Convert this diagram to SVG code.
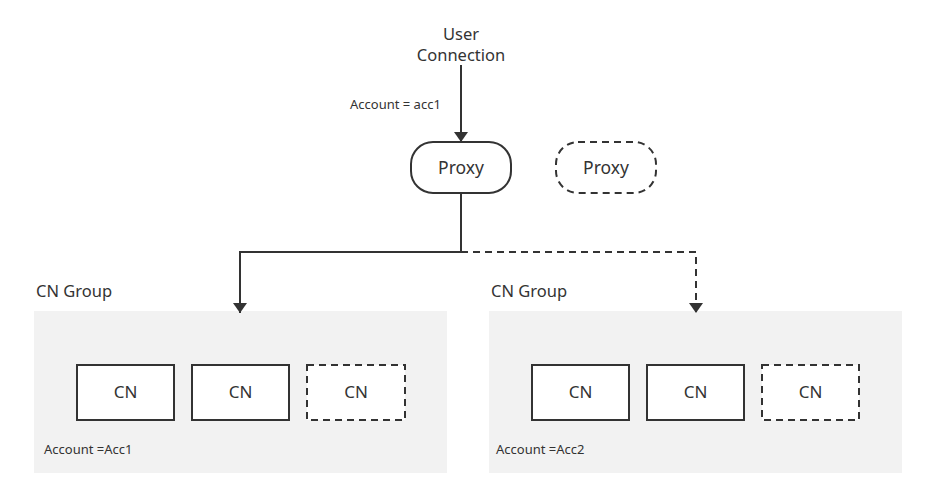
<svg xmlns="http://www.w3.org/2000/svg" width="926" height="498" viewBox="0 0 926 498">
<defs>
<style>
text{font-family:"Noto Sans","Liberation Sans",Arial,sans-serif;fill:#333333}
.tu{font-size:16.5px}
.tp{font-size:17.5px}
.tg{font-size:16.5px}
.tc{font-size:17px}
.t12{font-size:13px}
.box{fill:#ffffff;stroke:#333333;stroke-width:2}
.dash{stroke-dasharray:7 5}
.grp{fill:#f2f2f2;stroke:none}
.ln{fill:none;stroke:#333333;stroke-width:2}
</style>
<marker id="ah" viewBox="0 0 10 14" refX="10" refY="7" markerWidth="10" markerHeight="14" markerUnits="userSpaceOnUse" orient="auto">
<path d="M0,0 L10,7 L0,14 Z" fill="#333333"/>
</marker>
</defs>
<rect width="926" height="498" fill="#ffffff"/>

<g id="user">
<text class="tu" x="461" y="40" text-anchor="middle">User</text>
<text class="tu" x="461" y="61" text-anchor="middle">Connection</text>
</g>

<g id="group1">
<text class="tg" x="36" y="297">CN Group</text>
<rect class="grp" x="34" y="311" width="413" height="162"/>
<text class="t12" x="44" y="454">Account =Acc1</text>
</g>
<g id="group2">
<text class="tg" x="491" y="297">CN Group</text>
<rect class="grp" x="489" y="311" width="413" height="162"/>
<text class="t12" x="496" y="454">Account =Acc2</text>
</g>

<g id="proxy1">
<rect class="box" x="411" y="142" width="100" height="51" rx="22"/>
<text class="tp" x="461" y="174" text-anchor="middle">Proxy</text>
</g>
<g id="proxy2">
<rect class="box dash" x="556" y="142" width="100" height="51" rx="22"/>
<text class="tp" x="606" y="174" text-anchor="middle">Proxy</text>
</g>

<g id="cn1a"><rect class="box" x="77" y="365" width="97" height="55"/><text class="tc" x="125.5" y="398" text-anchor="middle">CN</text></g>
<g id="cn1b"><rect class="box" x="192" y="365" width="97" height="55"/><text class="tc" x="240.5" y="398" text-anchor="middle">CN</text></g>
<g id="cn1c"><rect class="box dash" x="307" y="365" width="98" height="55"/><text class="tc" x="356" y="398" text-anchor="middle">CN</text></g>
<g id="cn2a"><rect class="box" x="532" y="365" width="97" height="55"/><text class="tc" x="580.5" y="398" text-anchor="middle">CN</text></g>
<g id="cn2b"><rect class="box" x="647" y="365" width="97" height="55"/><text class="tc" x="695.5" y="398" text-anchor="middle">CN</text></g>
<g id="cn2c"><rect class="box dash" x="762" y="365" width="97" height="55"/><text class="tc" x="810.5" y="398" text-anchor="middle">CN</text></g>

<g id="connectors">
<line class="ln" x1="461" y1="65" x2="461" y2="142" marker-end="url(#ah)"/>
<text class="t12" x="350" y="109">Account = acc1</text>
<path class="ln" d="M461,193 V252 H240 V313" marker-end="url(#ah)"/>
<path class="ln dash" d="M461,252 H696 V313" marker-end="url(#ah)"/>
</g>
</svg>
